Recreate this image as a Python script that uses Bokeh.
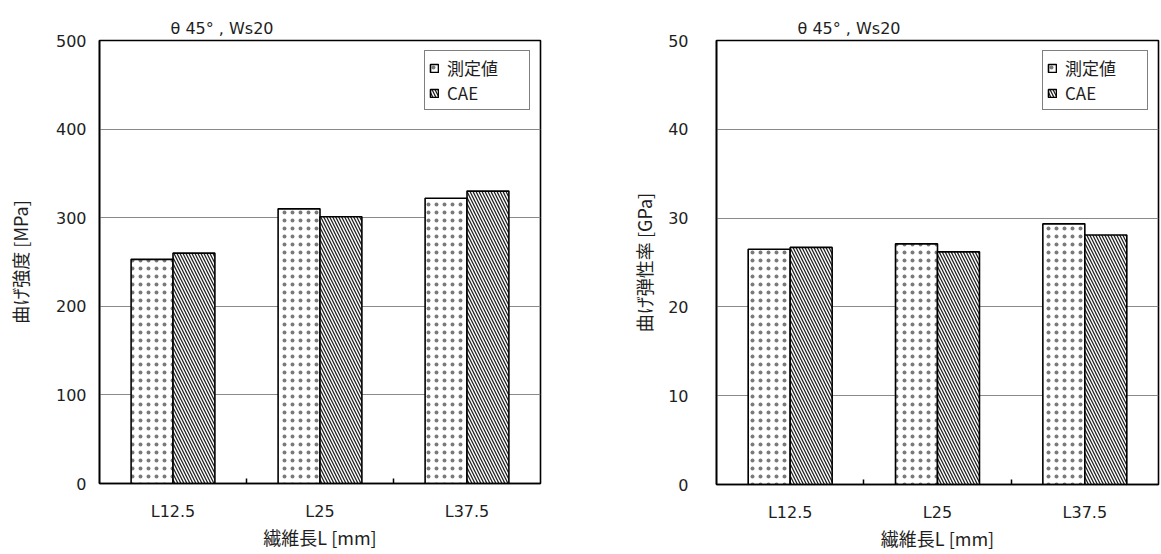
from bokeh.plotting import figure
from bokeh.layouts import row
from bokeh.models import FixedTicker, Legend, LegendItem
from bokeh.embed import file_html
from bokeh.resources import INLINE

categories = ["L12.5", "L25", "L37.5"]
series_names = ["測定値", "CAE"]
strength_measured = [253, 310, 322]
strength_cae = [260, 301, 330]
modulus_measured = [26.5, 27.1, 29.35]
modulus_cae = [26.7, 26.2, 28.1]
strength_ticks = [0, 100, 200, 300, 400, 500]
modulus_ticks = [0, 10, 20, 30, 40, 50]
title_text = "θ 45°   , Ws20"
x_title = "繊維長L [mm]"
strength_title = "曲げ強度 [MPa]"
modulus_title = "曲げ弾性率 [GPa]"

FONT = "DejaVu Sans"
CJK = "Noto Sans CJK JP"
TXT = "#1e1e1e"


def make(frame_w, frame_h, bl, bt, br, bb, yticks, ylabel, meas, cae, title_offset, ylabel_standoff, tick_standoff):
    n = len(categories)
    centers = [i + 0.5 for i in range(n)]
    bw = 0.285
    p = figure(x_range=(0, n), y_range=(yticks[0], yticks[-1]),
               frame_width=frame_w, frame_height=frame_h,
               min_border_left=bl, min_border_top=bt, min_border_right=br, min_border_bottom=bb,
               output_backend="svg", toolbar_location=None)
    p.outline_line_color = "black"
    p.outline_line_width = 1.6
    p.background_fill_color = "white"

    r1 = p.vbar(x=[c - bw / 2 for c in centers], top=meas, width=bw, bottom=0,
                fill_color="white", line_color="black", line_width=1.6,
                hatch_pattern="dot", hatch_scale=8, hatch_weight=0.5, hatch_color="#333333",
                hatch_alpha=0.65)
    r2 = p.vbar(x=[c + bw / 2 for c in centers], top=cae, width=bw, bottom=0,
                fill_color="white", line_color="black", line_width=1.6,
                hatch_pattern="left_diagonal_line", hatch_scale=6, hatch_weight=1.3, hatch_color="#222222")

    p.xgrid.visible = False
    p.ygrid.grid_line_color = "#8a8a8a"
    p.ygrid.grid_line_width = 1.2
    p.ygrid.ticker = FixedTicker(ticks=yticks)

    xa = p.xaxis[0]
    xa.ticker = FixedTicker(ticks=centers, minor_ticks=[1, 2])
    xa.major_label_overrides = {c: cat for c, cat in zip(centers, categories)}
    xa.major_tick_line_color = None
    xa.minor_tick_in = 5
    xa.minor_tick_out = 0
    xa.minor_tick_line_color = "black"
    xa.minor_tick_line_width = 1.5
    xa.axis_line_color = "black"
    xa.axis_line_width = 1.6
    xa.major_label_standoff = 12
    xa.major_label_text_font = FONT
    xa.major_label_text_font_size = "16px"
    xa.major_label_text_color = TXT
    xa.axis_label = x_title
    xa.axis_label_text_font = CJK
    xa.axis_label_text_font_size = "18px"
    xa.axis_label_text_font_style = "normal"
    xa.axis_label_text_color = TXT
    xa.axis_label_standoff = 0

    ya = p.yaxis[0]
    ya.ticker = FixedTicker(ticks=yticks)
    ya.major_tick_line_color = None
    ya.minor_tick_line_color = None
    ya.axis_line_color = "black"
    ya.axis_line_width = 1.6
    ya.major_label_standoff = tick_standoff
    ya.major_label_text_font = FONT
    ya.major_label_text_font_size = "16px"
    ya.major_label_text_color = TXT
    ya.axis_label = ylabel
    ya.axis_label_text_font = CJK
    ya.axis_label_text_font_size = "18px"
    ya.axis_label_text_font_style = "normal"
    ya.axis_label_text_color = TXT
    ya.axis_label_standoff = ylabel_standoff

    legend = Legend(items=[LegendItem(label=series_names[0], renderers=[r1]),
                           LegendItem(label=series_names[1], renderers=[r2])],
                    location="top_right")
    legend.border_line_color = "black"
    legend.border_line_width = 1.6
    legend.label_text_font = CJK
    legend.label_text_font_size = "17px"
    legend.label_text_color = TXT
    legend.glyph_width = 10
    legend.glyph_height = 10
    legend.label_standoff = 8
    legend.label_width = 78
    legend.label_height = 16
    legend.spacing = 0
    legend.padding = 4
    legend.margin = 10
    p.add_layout(legend)

    p.title.text = title_text
    p.title.align = "left"
    p.title.offset = title_offset
    p.title.text_font = FONT
    p.title.text_font_size = "16px"
    p.title.text_font_style = "normal"
    p.title.text_color = TXT
    p.title.standoff = 6
    return p


p1 = make(441, 443, 99, 40, 40, 64, strength_ticks, strength_title,
          strength_measured, strength_cae, 71, 20, 7)
p2 = make(442, 444, 136, 40, 2, 62, modulus_ticks, modulus_title,
          modulus_measured, modulus_cae, 81, 8, 22)

layout = row(p1, p2)
open("out.html", "w").write(file_html(layout, INLINE))
